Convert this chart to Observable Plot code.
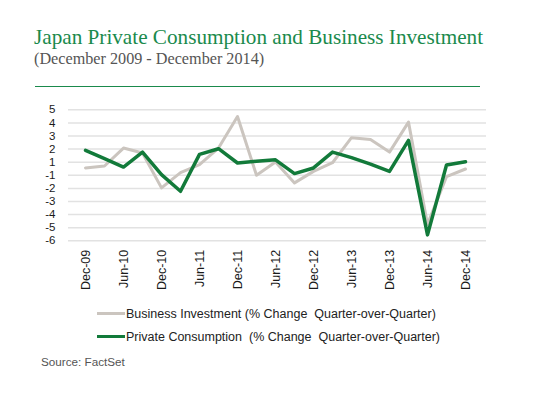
<!DOCTYPE html>
<html>
<head>
<meta charset="utf-8">
<script src="https://cdn.jsdelivr.net/npm/d3@7"></script>
<script src="https://cdn.jsdelivr.net/npm/@observablehq/plot@0.6"></script>
<style>
  html, body { margin: 0; padding: 0; background: #fff; }
  #wrap { position: relative; width: 540px; height: 394px; overflow: hidden; }
  .abs { position: absolute; white-space: pre; }
  #title { left: 34px; top: 27.3px; font: 21.2px/21.2px "Liberation Serif", serif; color: #1a8a4c; }
  #subtitle { left: 34px; top: 50.7px; font: 16.2px/16.2px "Liberation Serif", serif; color: #555; }
  #rule { left: 35px; top: 85.5px; width: 445px; height: 1px; background: #1a8a4c; }
  .lg { font: 12.5px/12.5px "Liberation Sans", Arial, sans-serif; color: #222; left: 126px; }
  .sw { left: 97px; width: 28px; height: 3px; }
  #source { left: 41px; top: 355.8px; font: 11.7px/11.7px "Liberation Sans", Arial, sans-serif; color: #555; }
  #chart { position: absolute; left: 0; top: 90px; }
</style>
</head>
<body>
<div id="wrap">
  <div id="title" class="abs">Japan Private Consumption and Business Investment</div>
  <div id="subtitle" class="abs">(December 2009 - December 2014)</div>
  <div id="rule" class="abs"></div>
  <div id="chart"></div>
  <div class="abs sw" style="top:311.5px;background:#cbc5bf;"></div>
  <div class="abs lg" style="top:307.7px;">Business Investment (% Change  Quarter-over-Quarter)</div>
  <div class="abs sw" style="top:335px;background:#127a3a;"></div>
  <div class="abs lg" style="top:331.1px;">Private Consumption  (% Change  Quarter-over-Quarter)</div>
  <div id="source" class="abs">Source: FactSet</div>
</div>
<script>
// Quarters (category axis)
const quarters = ["Dec-09","Mar-10","Jun-10","Sep-10","Dec-10","Mar-11","Jun-11","Sep-11","Dec-11","Mar-12","Jun-12","Sep-12","Dec-12","Mar-13","Jun-13","Sep-13","Dec-13","Mar-14","Jun-14","Sep-14","Dec-14"];
// Labelled x ticks
const xTickLabels = ["Dec-09","Jun-10","Dec-10","Jun-11","Dec-11","Jun-12","Dec-12","Jun-13","Dec-13","Jun-14","Dec-14"];
// Series values (in the chart's gridline units)
const businessInvestment = [0.56,0.71,2.08,1.70,-0.96,0.20,0.81,2.08,4.49,0.00,1.01,-0.58,0.30,0.96,2.87,2.74,1.77,4.06,-3.75,-0.10,0.48];
const privateConsumption = [1.90,1.27,0.63,1.77,0.05,-1.22,1.60,2.03,0.94,1.07,1.18,0.13,0.56,1.77,1.35,0.86,0.30,2.66,-4.55,0.79,1.03];
// Y gridlines and their printed labels (the original axis skips "0")
const yTickValues = [5,4,3,2,1,0,-1,-2,-3,-4,-5];
const yTickLabels = ["5","4","3","2","1","-1","-2","-3","-4","-5","-6"];

const bi = quarters.map((q, i) => ({quarter: q, value: businessInvestment[i]}));
const pc = quarters.map((q, i) => ({quarter: q, value: privateConsumption[i]}));

const chart = Plot.plot({
  width: 540,
  height: 210,
  marginTop: 19.3,
  marginBottom: 59.7,
  marginLeft: 68,
  marginRight: 54,
  style: {fontFamily: "'Liberation Sans', Arial, sans-serif", color: "#1a1a1a", background: "transparent"},
  x: {type: "point", domain: quarters, insetRight: 4, label: null},
  y: {domain: [-5, 5], label: null},
  marks: [
    Plot.ruleY(yTickValues, {stroke: "#e2e2e2", strokeWidth: 1.5}),
    Plot.axisY({ticks: yTickValues, tickFormat: d => yTickLabels[yTickValues.indexOf(d)], tickSize: 0, tickPadding: 13, fontSize: 11.5, label: null}),
    Plot.axisX({ticks: xTickLabels, tickRotate: -90, tickSize: 0, tickPadding: 9, fontSize: 12.5, label: null}),
    Plot.line(bi, {x: "quarter", y: "value", stroke: "#cbc5bf", strokeWidth: 3}),
    Plot.line(pc, {x: "quarter", y: "value", stroke: "#127a3a", strokeWidth: 3.5})
  ]
});
document.getElementById("chart").appendChild(chart);
</script>
</body>
</html>
